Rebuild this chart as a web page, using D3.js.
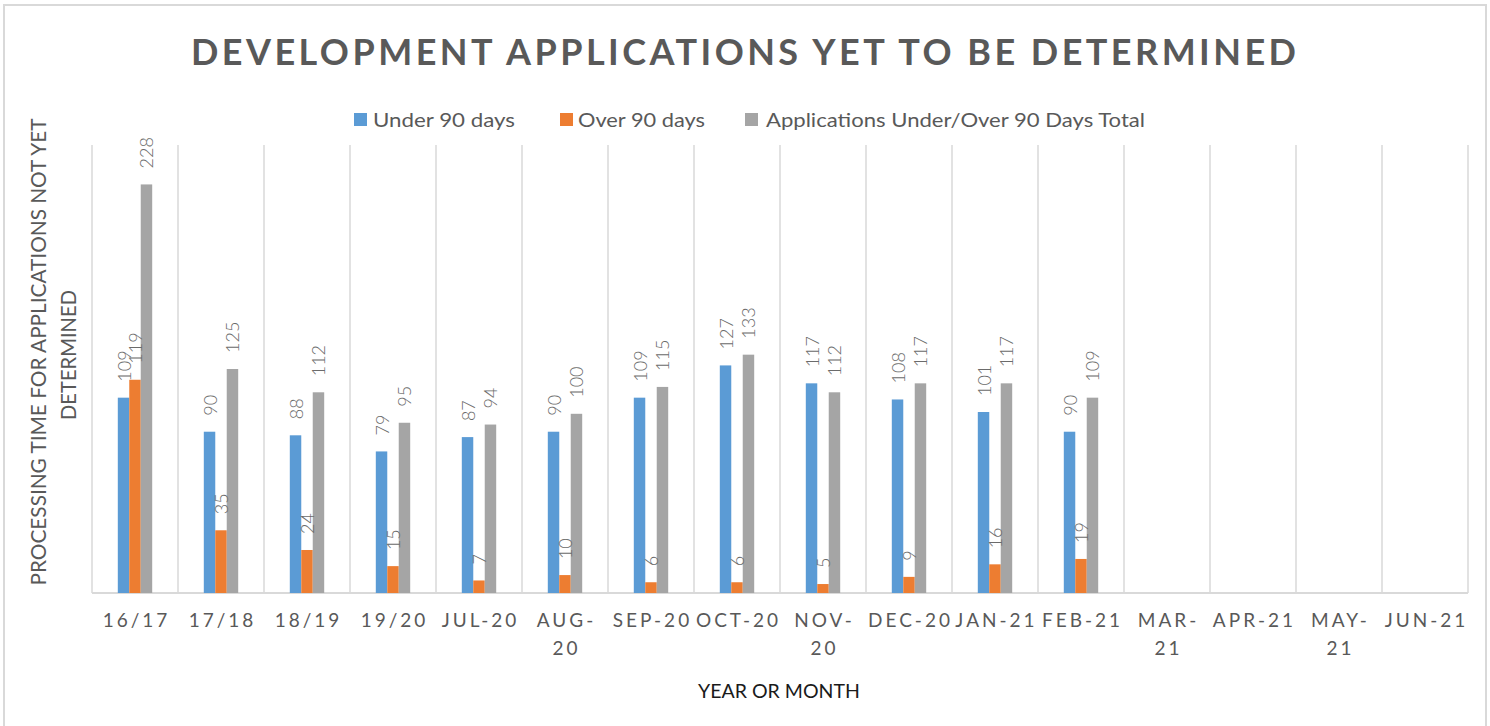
<!DOCTYPE html>
<html>
<head>
<meta charset="utf-8">
<script src="https://cdn.jsdelivr.net/npm/d3@7"></script>
<style>
  html, body { margin: 0; padding: 0; background: #fff; }
  svg { display: block; font-family: Lato, "Open Sans", sans-serif; }
</style>
</head>
<body>
<div id="chart"></div>
<script>
// ---- data ----
const categories = ["16/17", "17/18", "18/19", "19/20", "JUL-20", "AUG-20", "SEP-20", "OCT-20",
                    "NOV-20", "DEC-20", "JAN-21", "FEB-21", "MAR-21", "APR-21", "MAY-21", "JUN-21"];
const under90 = [109, 90, 88, 79, 87, 90, 109, 127, 117, 108, 101, 90, null, null, null, null];
const over90  = [119, 35, 24, 15, 7, 10, 6, 6, 5, 9, 16, 19, null, null, null, null];
const totals  = [228, 125, 112, 95, 94, 100, 115, 133, 112, 117, 117, 109, null, null, null, null];
const seriesNames = ["Under 90 days", "Over 90 days", "Applications Under/Over 90 Days Total"];
// labels that Excel wrapped onto two lines
const wrapped = new Set(["AUG-20", "NOV-20", "MAR-21", "MAY-21"]);

const colours = ["#5B9BD5", "#ED7D31", "#A5A5A5"];
const width = 1490, height = 726;
const plot = { left: 92, right: 1468, top: 145, bottom: 593 };

const svg = d3.select("#chart").append("svg")
    .attr("width", width)
    .attr("height", height);

// chart frame (bottom edge falls outside the picture)
svg.append("rect")
    .attr("x", 4).attr("y", 5)
    .attr("width", 1482).attr("height", 740)
    .attr("fill", "none")
    .attr("stroke", "#D9D9D9")
    .attr("stroke-width", 2);

// scales
const x = d3.scaleBand().domain(categories).range([plot.left, plot.right]).padding(0);
const groupW = x.bandwidth() * 0.4;
const xSub = d3.scaleBand().domain(seriesNames).range([-groupW / 2, groupW / 2]).padding(0);
const y = d3.scaleLinear().domain([0, 250]).range([plot.bottom, plot.top]);

// vertical gridlines between categories
const gridX = categories.map(c => x(c)).concat([plot.right]);
svg.append("g")
    .selectAll("line")
    .data(gridX)
    .join("line")
    .attr("x1", d => d).attr("x2", d => d)
    .attr("y1", plot.top).attr("y2", plot.bottom)
    .attr("stroke", "#D9D9D9")
    .attr("stroke-width", 1.5);

// baseline
svg.append("line")
    .attr("x1", plot.left).attr("x2", plot.right)
    .attr("y1", y(0)).attr("y2", y(0))
    .attr("stroke", "#D9D9D9")
    .attr("stroke-width", 2);

// bars
const rows = [];
categories.forEach((c, i) => {
    [under90[i], over90[i], totals[i]].forEach((v, s) => {
        if (v != null) rows.push({ cat: c, series: seriesNames[s], s, value: v });
    });
});

const cx = d => x(d.cat) + x.bandwidth() / 2 + xSub(d.series);

svg.append("g")
    .selectAll("rect")
    .data(rows)
    .join("rect")
    .attr("x", d => cx(d))
    .attr("y", d => y(d.value))
    .attr("width", xSub.bandwidth())
    .attr("height", d => y(0) - y(d.value))
    .attr("fill", d => colours[d.s]);

// rotated data labels
svg.append("g")
    .selectAll("text")
    .data(rows)
    .join("text")
    .attr("transform", d => `translate(${cx(d) + xSub.bandwidth() / 2 + 0.5},${y(d.value) - 16}) rotate(-90)`)
    .attr("dy", "0.36em")
    .attr("font-size", 18)
    .attr("font-weight", 300)
    .attr("fill", "#6b6b6b")
    .text(d => d.value);

// x tick labels
const ticks = svg.append("g")
    .selectAll("text")
    .data(categories)
    .join("text")
    .attr("x", d => x(d) + x.bandwidth() / 2 + 1.5)
    .attr("y", 627)
    .attr("text-anchor", "middle")
    .attr("font-size", 19)
    .attr("letter-spacing", "3px")
    .attr("fill", "#595959");

ticks.each(function(d) {
    const t = d3.select(this);
    const lines = wrapped.has(d) ? [d.split("-")[0] + "-", d.split("-")[1]] : [d];
    lines.forEach((line, k) => {
        t.append("tspan")
            .attr("x", x(d) + x.bandwidth() / 2 + 1.5)
            .attr("dy", k === 0 ? 0 : 28)
            .text(line);
    });
});

// title
svg.append("text")
    .attr("x", 191).attr("y", 65)
    .attr("font-size", 36)
    .attr("font-weight", "bold")
    .attr("fill", "#595959")
    .attr("textLength", 1105)
    .attr("lengthAdjust", "spacing")
    .text("DEVELOPMENT APPLICATIONS YET TO BE DETERMINED");

// legend
const legendItems = [
    { name: seriesNames[0], sx: 354, tx: 373, tw: 142 },
    { name: seriesNames[1], sx: 560, tx: 578, tw: 127 },
    { name: seriesNames[2], sx: 745, tx: 766, tw: 379 },
];
const legend = svg.append("g")
    .selectAll("g")
    .data(legendItems)
    .join("g");
legend.append("rect")
    .attr("x", d => d.sx).attr("y", 113)
    .attr("width", 13).attr("height", 13)
    .attr("fill", (d, i) => colours[i]);
legend.append("text")
    .attr("x", d => d.tx).attr("y", 127)
    .attr("font-size", 20)
    .attr("fill", "#595959")
    .attr("textLength", d => d.tw)
    .attr("lengthAdjust", "spacingAndGlyphs")
    .text(d => d.name);

// axis titles
svg.append("text")
    .attr("x", 779).attr("y", 698)
    .attr("text-anchor", "middle")
    .attr("font-size", 20)
    .attr("fill", "#1a1a1a")
    .attr("textLength", 162)
    .attr("lengthAdjust", "spacingAndGlyphs")
    .text("YEAR OR MONTH");

const yTitle = svg.append("text")
    .attr("transform", "rotate(-90)")
    .attr("text-anchor", "middle")
    .attr("font-size", 22)
    .attr("fill", "#595959");
yTitle.append("tspan")
    .attr("x", -352).attr("y", 46)
    .attr("textLength", 467)
    .attr("lengthAdjust", "spacingAndGlyphs")
    .text("PROCESSING TIME FOR APPLICATIONS NOT YET");
yTitle.append("tspan")
    .attr("x", -355).attr("y", 76)
    .attr("textLength", 130)
    .attr("lengthAdjust", "spacingAndGlyphs")
    .text("DETERMINED");
</script>
</body>
</html>
